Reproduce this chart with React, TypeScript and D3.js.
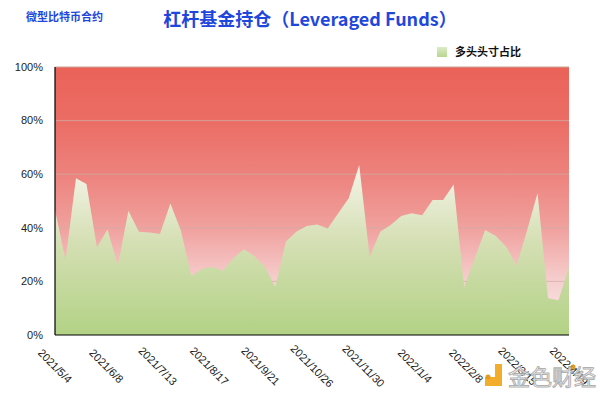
import React from 'react'
import * as d3 from 'd3'

// 多头头寸占比 (%), weekly from 2021/5/4
const longShare = [
  46.6, 28, 58.5, 56.3, 32.7, 39.4, 26, 46.4, 38.5, 38.2,
  37.7, 49.1, 39, 22, 24.6, 25.5, 24, 28.6, 32, 29.5,
  25.5, 17.8, 34.8, 38.5, 40.7, 41.2, 39.7, 45.4, 51, 63.4,
  29.2, 38.5, 41, 44.4, 45.4, 44.7, 50.4, 50.4, 56.2, 17.8,
  28.5, 39.2, 37, 33, 26, 39, 53, 13.7, 13, 25.5,
]

const dateLabels = [
  '2021/5/4', '2021/6/8', '2021/7/13', '2021/8/17', '2021/9/21', '2021/10/26',
  '2021/11/30', '2022/1/4', '2022/2/8', '2022/3/15', '2022/4/19',
]

const yTicks = [0, 20, 40, 60, 80, 100]

const W = 600
const H = 393
const left = 55
const right = 569
const top = 67
const bottom = 335

export default function App() {
  const x = d3.scalePoint<number>().domain(longShare.map((_, i) => i)).range([left, right])
  const y = d3.scaleLinear().domain([0, 100]).range([bottom, top])
  const xLab = d3.scalePoint<string>().domain(dateLabels).range([left, right])

  const area = d3
    .area<number>()
    .x((_, i) => x(i) as number)
    .y0(y(0))
    .y1(d => y(d))

  const font = 'Liberation Sans, Arial, sans-serif'
  const cjk = '"Noto Sans CJK SC", sans-serif'

  return (
    <div style={{ position: 'absolute', left: 0, top: 0 }}>
      <svg width={W} height={H} style={{ display: 'block', background: '#fff' }}>
        <defs>
          <linearGradient id="redBg" x1="0" y1="0" x2="0" y2="1">
            <stop offset="0" stopColor="#ea6258" />
            <stop offset="0.2" stopColor="#eb6d65" />
            <stop offset="0.4" stopColor="#ed827d" />
            <stop offset="0.6" stopColor="#f0a19e" />
            <stop offset="0.8" stopColor="#f6cfcf" />
            <stop offset="1" stopColor="#fbeded" />
          </linearGradient>
          <linearGradient id="greenArea" x1="0" y1="0" x2="0" y2="1">
            <stop offset="0" stopColor="#f5f5ea" />
            <stop offset="0.45" stopColor="#d5dfb4" />
            <stop offset="1" stopColor="#b2d285" />
          </linearGradient>
          <linearGradient id="legendSw" x1="0" y1="0" x2="0" y2="1">
            <stop offset="0" stopColor="#dcebc6" />
            <stop offset="1" stopColor="#b8d690" />
          </linearGradient>
        </defs>

        <text x={26} y={21} fontFamily={cjk} fontWeight={700} fontSize={11} fill="#1f47dc">
          微型比特币合约
        </text>
        <text x={310} y={26} textAnchor="middle" fontFamily={cjk} fontWeight={700} fontSize={18} fill="#1f47dc">
          杠杆基金持仓（Leveraged Funds）
        </text>

        <rect x={437} y={47} width={10} height={10} fill="url(#legendSw)" />
        <text x={455} y={56} fontFamily={cjk} fontWeight={700} fontSize={11} fill="#111">
          多头头寸占比
        </text>

        <rect x={left} y={top} width={right - left} height={bottom - top} fill="url(#redBg)" />

        {yTicks.filter(t => t > 0).map(t => (
          <line key={t} x1={left} x2={right} y1={y(t)} y2={y(t)}
            stroke={t === 100 ? '#c9a596' : '#cfaea6'} strokeOpacity={t === 100 ? 1 : 0.75} strokeWidth={1} />
        ))}

        <path d={area(longShare) ?? ''} fill="url(#greenArea)" />

        <line x1={left} x2={left} y1={top} y2={bottom} stroke="#000" strokeWidth={1.2} />
        <line x1={left} x2={right} y1={bottom} y2={bottom} stroke="#000" strokeWidth={1.2} />

        {yTicks.map(t => (
          <text key={t} x={43} y={y(t)} dy="0.35em" textAnchor="end" fontFamily={font} fontSize={11} fill="#222">
            {t}%
          </text>
        ))}

        {dateLabels.map(d => (
          <text key={d} transform={`translate(${xLab(d)},366) rotate(45)`} dy="0.35em" textAnchor="middle"
            fontFamily={font} fontSize={11} fill="#1a1a1a">
            {d}
          </text>
        ))}

        {/* watermark */}
        <g opacity={0.9}>
          <rect x={485} y={364} width={17} height={22} fill="#f2a516" />
          <rect x={485} y={364} width={10} height={13} fill="#fff" />
          <circle cx={488} cy={377} r={2.5} fill="#e0900a" />
          <circle cx={573} cy={367} r={2.5} fill="#e0900a" />
          <text x={508} y={385} fontFamily={cjk} fontSize={22} fill="#fff" stroke="#a8a8a8" strokeWidth={1}>
            金色财经
          </text>
        </g>
      </svg>
    </div>
  )
}
